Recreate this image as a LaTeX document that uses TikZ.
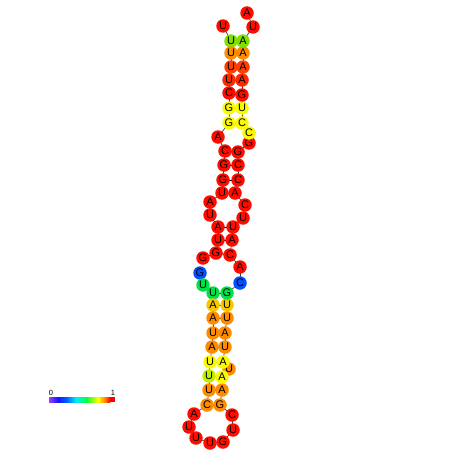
\documentclass[tikz,border=0pt]{standalone}
\usepackage{fontspec}
\setmainfont{Liberation Sans}
\pgfdeclarelayer{bg}
\pgfsetlayers{bg,main}
\definecolor{cR}{RGB}{255,12,0}
\definecolor{cRO}{RGB}{255,64,0}
\definecolor{cRO2}{RGB}{255,40,0}
\definecolor{cO}{RGB}{255,140,0}
\definecolor{cGo}{RGB}{245,200,0}
\definecolor{cY}{RGB}{250,250,0}
\definecolor{cYG}{RGB}{190,240,0}
\definecolor{cL}{RGB}{128,224,0}
\definecolor{cGr}{RGB}{0,225,70}
\definecolor{cB}{RGB}{0,80,255}
\definecolor{bV}{RGB}{160,60,255}
\definecolor{bB}{RGB}{20,20,255}
\definecolor{bB2}{RGB}{0,90,255}
\definecolor{bC}{RGB}{0,235,255}
\definecolor{bG}{RGB}{0,255,60}
\definecolor{bY}{RGB}{255,255,0}
\definecolor{bO}{RGB}{255,130,0}
\definecolor{bR}{RGB}{255,0,0}
\tikzset{
  nt/.style={circle, minimum size=13.5pt, inner sep=0pt, font=\fontsize{11}{11}\selectfont},
  bb/.style={draw=black!75, line width=0.7pt},
  bp/.style={draw=black, line width=0.9pt},
  lab/.style={font=\fontsize{7.5}{7.5}\selectfont, inner sep=0pt}
}
\begin{document}
\begin{tikzpicture}[x=1pt,y=-1pt]
\useasboundingbox (0,0) rectangle (452,452);
\foreach \i/\x/\y/\b/\c in {
1/200/273/G/cB, 2/203/285/U/cGr, 3/213/293/U/cGr, 4/213/305/A/cGo, 5/213/318/A/cO,
6/213/333/U/cO, 7/212/347/A/cO, 8/210/362/U/cY, 9/209/376/U/cYG, 10/209/390/U/cO,
11/207/405/C/cO, 12/194/414/A/cR, 13/189/427/U/cR, 14/196/438/U/cR, 15/210/443/U/cR,
16/223/442/G/cR, 17/233/430/U/cR, 18/232/415/C/cR, 19/220/405/G/cO, 20/222/390/A/cO,
22/229/369/U/cO, 21/222/377/A/cY, 23/223/362/A/cY, 24/225/347/U/cO, 25/225/333/A/cO,
26/227/318/U/cO, 27/227/305/U/cGo, 28/227/293/G/cGr, 29/240/283/C/cB, 30/240/267/A/cR,
31/230/255/C/cR, 32/232/240/A/cR, 33/233/227/U/cR, 34/243/218/U/cR, 35/245/205/C/cR,
36/235/193/A/cR, 37/238/180/C/cR, 38/238/165/C/cR, 39/238/152/G/cR, 40/249/143/G/cR,
41/249/133/C/cY, 42/242/123/C/cY, 43/242/108/U/cY, 44/242/95/G/cR, 45/242/80/A/cRO2,
46/243/67/A/cRO, 47/243/53/A/cO, 48/243/41/A/cL, 49/253/27/U/cR, 50/247/13/A/cR,
51/223/26/U/cR, 52/231/41/U/cL, 53/231/53/U/cO, 54/231/67/U/cRO, 55/229/80/U/cRO2,
56/229/93/C/cR, 57/229/108/G/cY, 58/229/123/G/cY, 59/218/137/A/cR, 60/225/151/C/cR,
61/224/165/G/cR, 62/223/180/G/cR, 63/222/193/U/cR, 64/210/202/A/cR, 65/210/215/U/cR,
66/218/227/A/cR, 67/218/240/U/cR, 68/216/253/G/cR, 69/203/258/G/cR}
{ \node[nt, fill=\c] (n\i) at (\x,\y) {\b}; }
\begin{pgfonlayer}{bg}
\foreach \i in {1,...,49,51,52,...,68} {
  \pgfmathtruncatemacro{\j}{\i+1}
  \draw[bb] (n\i.center) -- (n\j.center);
}
\foreach \a/\b in {3/28,4/27,5/26,6/25,7/24,8/23,9/21,10/20,11/19,31/68,32/67,33/66,36/63,37/62,38/61,39/60,42/58,43/57,44/56,45/55,46/54,47/53,48/52}
  \draw[bp] (n\a.center) -- (n\b.center);
\end{pgfonlayer}
% colour bar
\shade[left color=bV, right color=bB] (49,397) rectangle (58,402);
\shade[left color=bB, right color=bB2] (58,397) rectangle (66,402);
\shade[left color=bB2, right color=bC] (66,397) rectangle (76,402);
\shade[left color=bC, right color=bG] (76,397) rectangle (86,402);
\shade[left color=bG, right color=bY] (86,397) rectangle (98,402);
\shade[left color=bY, right color=bO] (98,397) rectangle (105,402);
\shade[left color=bO, right color=bR] (105,397) rectangle (110,402);
\fill[bR] (110,397) rectangle (115,402);
\node[lab] (l0) at (51,392.5) {0};
\node[lab] (l1) at (113,392.5) {1};
\end{tikzpicture}
\end{document}
